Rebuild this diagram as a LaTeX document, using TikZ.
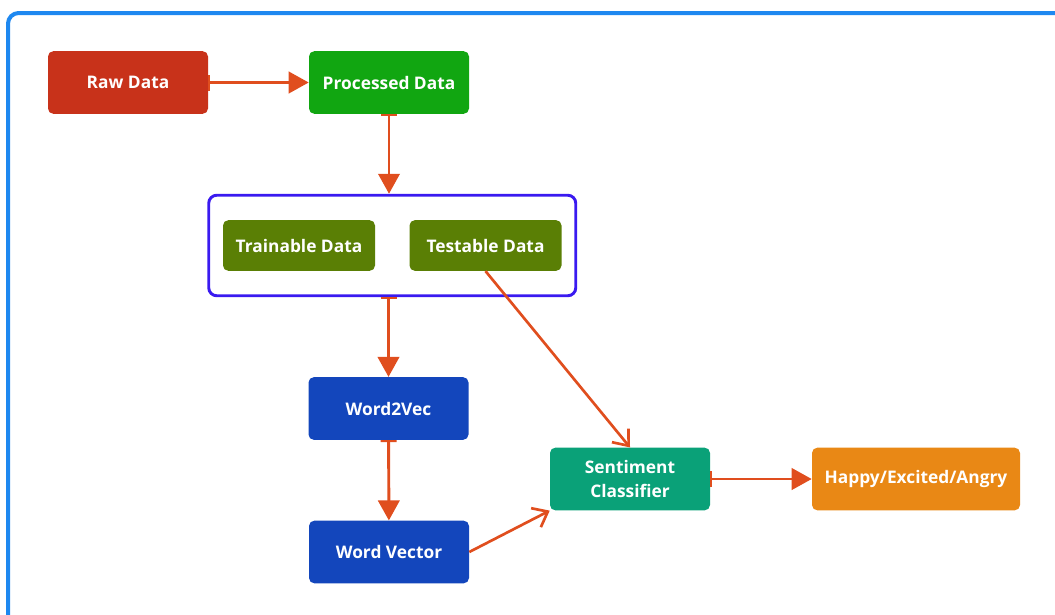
\documentclass[tikz,border=0pt]{standalone}
\usepackage{fontspec}
\setmainfont{Open Sans}
\usetikzlibrary{arrows.meta,fit}
\definecolor{rawred}{HTML}{C8321A}
\definecolor{procgreen}{HTML}{11A611}
\definecolor{olivegreen}{HTML}{5A7F05}
\definecolor{vecblue}{HTML}{1346BC}
\definecolor{sentgreen}{HTML}{0AA178}
\definecolor{outorange}{HTML}{E98815}
\definecolor{arrowred}{HTML}{E04E1E}
\definecolor{groupblue}{HTML}{3A1AF0}
\definecolor{frameblue}{HTML}{1E88F0}

\begin{document}
\begin{tikzpicture}[
    x=0.75pt, y=-0.75pt,
    box/.style={draw=none, rectangle, rounded corners=4pt, minimum width=120pt, minimum height=47pt,
        inner sep=2pt, align=center, text=white, font=\bfseries\fontsize{13}{18.5}\selectfont},
    databox/.style={box, minimum width=114pt, minimum height=38pt},
    groupbox/.style={draw=groupblue, line width=2.2pt, rounded corners=6pt, inner xsep=10.5pt, inner ysep=18.5pt},
    flow/.style={draw=arrowred, line width=2.2pt, {Bar[width=12pt,line width=1.5pt]}-{Triangle[length=15pt,width=16pt]}},
    feed/.style={draw=arrowred, line width=2pt, -{Straight Barb[length=10pt,width=16pt,line width=2pt]}}
]
\useasboundingbox (0,0) rectangle (1055,614);
\begin{scope}
\clip (0,0) rectangle (1055,614);
\draw[frameblue, line width=3pt, rounded corners=8pt] (8,700) -- (8,13) -- (1100,13);
\end{scope}

\node[box, fill=rawred] (raw) at (128,82.5) {Raw Data};
\node[box, fill=procgreen] (proc) at (389,82.5) {Processed Data};
\node[databox, fill=olivegreen] (train) at (299,245.5) {Trainable Data};
\node[databox, fill=olivegreen] (test) at (485.5,245.5) {Testable Data};
\node[groupbox, fit=(train)(test)] (split) {};
\node[box, fill=vecblue] (w2v) at (388.5,408.5) {Word2Vec};
\node[box, fill=vecblue] (wvec) at (389,552) {Word Vector};
\node[box, fill=sentgreen] (sent) at (630,479) {Sentiment\\Classifier};
\node[box, fill=outorange, minimum width=156pt] (out) at (916,479) {Happy/Excited/Angry};

\draw[flow] (raw) -- (proc);
\draw[flow] (proc.south) -- (proc.south |- split.north);
\draw[flow] (split.south -| w2v.north) -- (w2v.north);
\draw[flow] (w2v) -- (wvec);
\draw[feed] (test.south) -- (sent.north);
\draw[feed] (wvec.east) -- (sent.south west);
\draw[flow] (sent) -- (out);
\end{tikzpicture}
\end{document}
